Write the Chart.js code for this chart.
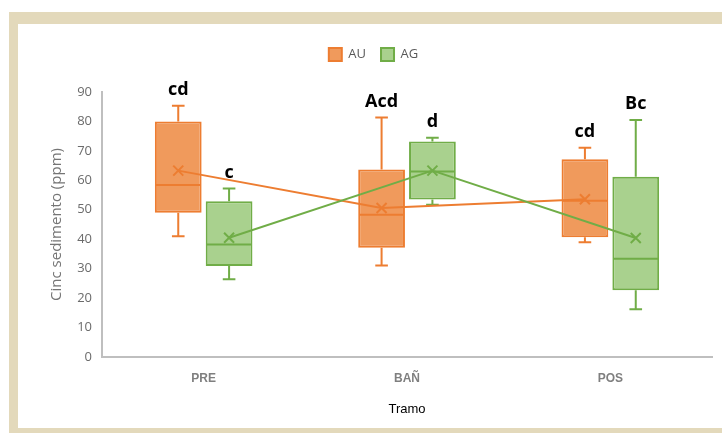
<!DOCTYPE html>
<html><head><meta charset="utf-8">
<script src="https://cdn.jsdelivr.net/npm/chart.js@4"></script>
<style>
html,body{margin:0;padding:0;background:#fff;width:722px;height:433px;overflow:hidden}
#frame{position:absolute;left:9px;top:12px;width:760px;height:404px;border-left:9px solid #E3D9BB;border-top:12px solid #E3D9BB;border-bottom:5px solid #E3D9BB;background:#fff}
#wrap{position:absolute;left:0;top:0;width:722px;height:433px}
</style></head><body>
<div id="frame"></div>
<div id="wrap"><canvas id="c" width="722" height="433"></canvas></div>
<script>
// ---- data ----
const categories = ['PRE', 'BAÑ', 'POS'];
const seriesNames = ['AU', 'AG'];
const auMin    = [41.0, 31.1, 39.0];
const auQ1     = [49.0, 37.1, 40.7];
const auMedian = [58.4, 48.3, 53.1];
const auQ3     = [80.0, 63.7, 67.2];
const auMax    = [85.3, 81.3, 71.1];
const auMean   = [63.3, 50.6, 53.6];
const agMin    = [26.4, 51.7, 16.2];
const agQ1     = [30.9, 53.5, 22.7];
const agMedian = [38.2, 63.0, 33.4];
const agQ3     = [52.9, 73.2, 61.2];
const agMax    = [57.2, 74.5, 80.5];
const agMean   = [40.5, 63.3, 40.4];
const auLetters = ['cd', 'Acd', 'cd'];
const agLetters = ['c', 'd', 'Bc'];
const yTicks = [0, 10, 20, 30, 40, 50, 60, 70, 80, 90];
const yTitle = 'Cinc sedimento (ppm)';
const xTitle = 'Tramo';

// ---- styles ----
const AU_FILL = '#F09A5C', AU_LINE = '#ED7D31';
const AG_FILL = '#A9D18E', AG_LINE = '#70AD47';

const boxPlugin = {
  id: 'boxExtras',
  afterDatasetDraw(chart, args) {
    const ds = chart.data.datasets[args.index];
    if (!ds.stats) return;
    const ctx = chart.ctx, y = chart.scales.y;
    ctx.save();
    ctx.strokeStyle = ds.borderColor;
    ctx.lineWidth = 2;
    args.meta.data.forEach((el, i) => {
      const x = el.x, w = el.width, cap = w * 0.27;
      const yMin = y.getPixelForValue(ds.stats.min[i]);
      const yMax = y.getPixelForValue(ds.stats.max[i]);
      const yQ1 = y.getPixelForValue(ds.stats.q1[i]);
      const yQ3 = y.getPixelForValue(ds.stats.q3[i]);
      const yMed = y.getPixelForValue(ds.stats.median[i]);
      ctx.beginPath();
      ctx.moveTo(x, yQ3); ctx.lineTo(x, yMax);
      ctx.moveTo(x - cap / 2, yMax); ctx.lineTo(x + cap / 2, yMax);
      ctx.moveTo(x, yQ1); ctx.lineTo(x, yMin);
      ctx.moveTo(x - cap / 2, yMin); ctx.lineTo(x + cap / 2, yMin);
      ctx.moveTo(x - w / 2 + 1, yMed); ctx.lineTo(x + w / 2 - 1, yMed);
      ctx.stroke();
    });
    ctx.restore();
  },
  afterDatasetsDraw(chart) {
    const ctx = chart.ctx, y = chart.scales.y;
    ctx.save();
    // mean lines with x markers, joined through the box centres
    chart.data.datasets.forEach((ds, di) => {
      if (!ds.stats) return;
      const els = chart.getDatasetMeta(di).data;
      const pts = els.map((el, i) => [el.x, y.getPixelForValue(ds.stats.mean[i])]);
      ctx.strokeStyle = ds.borderColor;
      ctx.lineWidth = 2;
      ctx.lineJoin = 'round';
      ctx.beginPath();
      pts.forEach((p, i) => (i ? ctx.lineTo(p[0], p[1]) : ctx.moveTo(p[0], p[1])));
      ctx.stroke();
      const r = 5;
      ctx.beginPath();
      pts.forEach(p => {
        ctx.moveTo(p[0] - r, p[1] - r); ctx.lineTo(p[0] + r, p[1] + r);
        ctx.moveTo(p[0] - r, p[1] + r); ctx.lineTo(p[0] + r, p[1] - r);
      });
      ctx.stroke();
    });
    // significance letters
    ctx.fillStyle = '#000';
    ctx.font = 'bold 18px "Open Sans", sans-serif';
    ctx.textAlign = 'center';
    ctx.textBaseline = 'bottom';
    chart.data.datasets.forEach((ds, di) => {
      if (!ds.stats) return;
      chart.getDatasetMeta(di).data.forEach((el, i) => {
        ctx.fillText(ds.stats.letters[i], el.x, y.getPixelForValue(ds.stats.max[i]) - 7);
      });
    });
    ctx.restore();
  }
};

new Chart(document.getElementById('c'), {
  type: 'bar',
  data: {
    labels: categories,
    datasets: [
      {label: seriesNames[0], data: auQ1.map((v, i) => [v, auQ3[i]]),
       backgroundColor: AU_FILL, borderColor: AU_LINE, borderWidth: 2, borderSkipped: false,
       stats: {min: auMin, q1: auQ1, median: auMedian, q3: auQ3, max: auMax, mean: auMean, letters: auLetters}},
      {label: seriesNames[1], data: agQ1.map((v, i) => [v, agQ3[i]]),
       backgroundColor: AG_FILL, borderColor: AG_LINE, borderWidth: 2, borderSkipped: false,
       stats: {min: agMin, q1: agQ1, median: agMedian, q3: agQ3, max: agMax, mean: agMean, letters: agLetters}}
    ]
  },
  options: {
    responsive: false,
    animation: false,
    devicePixelRatio: 1,
    categoryPercentage: 0.5,
    barPercentage: 0.92,
    layout: {padding: {left: 35, right: 10, top: 33, bottom: 0}},
    plugins: {
      tooltip: {enabled: false},
      legend: {
        position: 'top',
        labels: {
          boxWidth: 13, boxHeight: 13, padding: 15,
          color: '#595959', font: {family: '"Open Sans", sans-serif', size: 13}
        }
      }
    },
    scales: {
      x: {
        type: 'category', offset: true,
        grid: {display: true, drawOnChartArea: false, drawTicks: false},
        border: {display: true, color: '#BFBFBF', width: 2},
        ticks: {color: '#7F7F7F', padding: 14, font: {family: '"Liberation Sans", Arial, sans-serif', size: 12, weight: 'bold'}},
        title: {display: true, text: xTitle, color: '#000', padding: {top: 0, bottom: 16},
                font: {family: '"Liberation Sans", Arial, sans-serif', size: 13}},
        afterFit: s => { s.height = 76; }
      },
      spacer: {
        type: 'linear', axis: 'x', position: 'top', min: 0, max: 1, offset: false, display: true,
        ticks: {display: false}, grid: {display: false}, border: {display: false},
        afterFit: s => { s.height = 21; }
      },
      y: {
        min: 0, max: 90,
        afterBuildTicks: s => { s.ticks = yTicks.map(v => ({value: v})); },
        grid: {display: true, drawOnChartArea: false, drawTicks: false},
        border: {display: true, color: '#BFBFBF', width: 2},
        ticks: {color: '#6B6B6B', padding: 10, font: {family: '"Open Sans", sans-serif', size: 13}},
        title: {display: true, text: yTitle, color: '#757575', padding: {top: 13, bottom: 0},
                font: {family: '"Open Sans", sans-serif', size: 15}},
        afterFit: s => { s.width = 67; }
      }
    }
  },
  plugins: [boxPlugin]
});
</script>
</body></html>
